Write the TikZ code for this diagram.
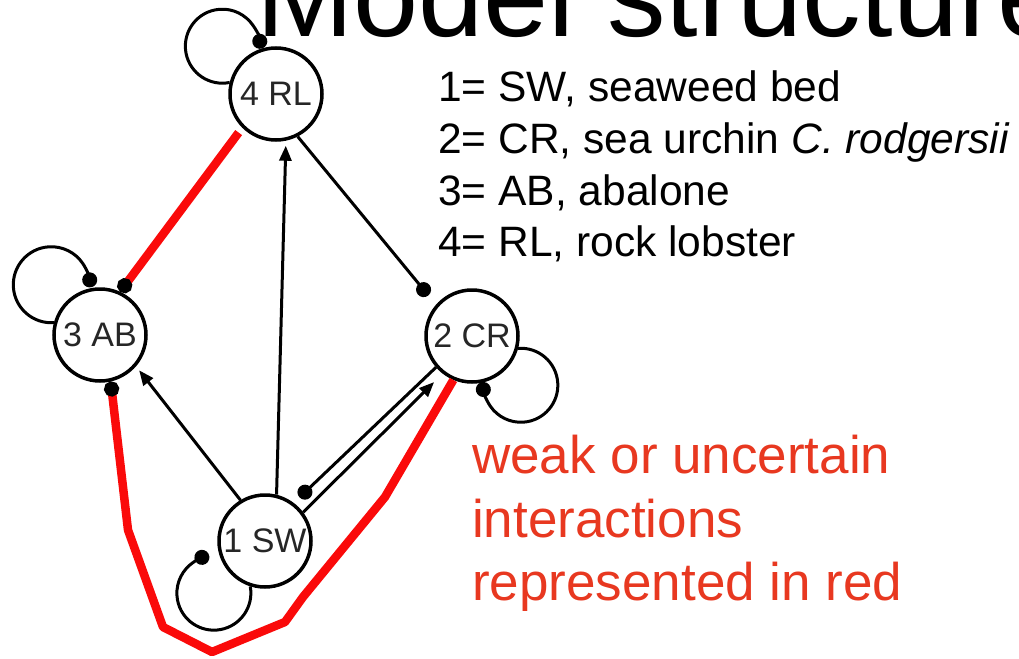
\documentclass[tikz,border=0pt]{standalone}
\usepackage{fontspec}
\setmainfont{Liberation Sans}
\usetikzlibrary{arrows.meta}
\definecolor{wred}{RGB}{250,10,10}
\definecolor{tred}{RGB}{232,56,32}
\begin{document}
\begin{tikzpicture}[x=1pt,y=-1pt,
  sp/.style={circle,draw,line width=3.5pt,minimum size=92pt,inner sep=0pt,fill=white,
    font=\fontsize{34}{38}\selectfont,text=black!85},
  posarr/.style={line width=3pt,-{Triangle[length=15pt,width=12pt]}},
  negarr/.style={line width=3pt,-{Circle[length=15pt]}},
  selfl/.style={line width=3pt,-{Circle[length=15pt]}},
  weak/.style={line width=8.5pt,draw=wred,line join=round,-{Circle[length=15pt,color=black]}},
  legend/.style={anchor=base west,inner sep=0pt,font=\fontsize{42.5}{51.5}\selectfont},
  note/.style={anchor=base west,inner sep=0pt,text=tred,font=\fontsize{53}{63}\selectfont},
  titlest/.style={anchor=base west,inner sep=0pt,font=\fontsize{117}{120}\selectfont}]
\useasboundingbox (0,0) rectangle (1019,658);
\clip (0,0) rectangle (1019,658);
\fill[white] (0,0) rectangle (1019,658);

% title and texts
\node[titlest] (title) at (256,37) {Model structure};
\node[legend] (leg1) at (438,102) {1= SW, seaweed bed};
\node[legend] (leg2) at (438,153.5) {2= CR, sea urchin \textit{C. rodgersii}};
\node[legend] (leg3) at (438,205) {3= AB, abalone};
\node[legend] (leg4) at (438,256.5) {4= RL, rock lobster};
\node[note] (n1) at (472,473) {weak or uncertain};
\node[note] (n2) at (472,537) {interactions};
\node[note] (n3) at (472,600) {represented in red};

% species nodes
\node[sp] (rl) at (276,94) {4 RL};
\node[sp] (ab) at (100,335) {3 AB};
\node[sp] (cr) at (472,336) {2 CR};
\node[sp] (sw) at (265,541) {1 SW};

% self loops
\draw[selfl] (rl.166) arc[start angle=78.6, end angle=364, radius=37];
\draw[selfl] (ab.165) arc[start angle=86.1, end angle=364, radius=38];
\draw[selfl] (cr.-15.6) arc[start angle=265.8, end angle=545, radius=37];
\draw[selfl] (sw.252.8) arc[start angle=-10.5, end angle=263, radius=37];

% black interactions
\draw[posarr,shorten >=5pt] (sw.76) -- (rl.282);
\draw[posarr,shorten >=5pt] (sw.121) -- (ab.319);
\draw[negarr,shorten >=12pt] (rl.297) -- (cr.139);
\draw[negarr,shorten >=8pt] (cr.221) -- (sw.53);
\draw[posarr,shorten >=12pt] (sw.37) -- (cr.232);

% weak (red) interactions
\coordinate (w1) at (385,497);
\coordinate (w2) at (303,597);
\coordinate (w3) at (285,622);
\coordinate (w4) at (212,652);
\coordinate (w5) at (163,627);
\coordinate (w6) at (128,530);
\draw[weak,shorten <=6pt] (rl.225) -- (ab.65);
\draw[weak] (cr.247) -- (w1) -- (w2) -- (w3) -- (w4) -- (w5) -- (w6) -- (ab.283);
\end{tikzpicture}
\end{document}
